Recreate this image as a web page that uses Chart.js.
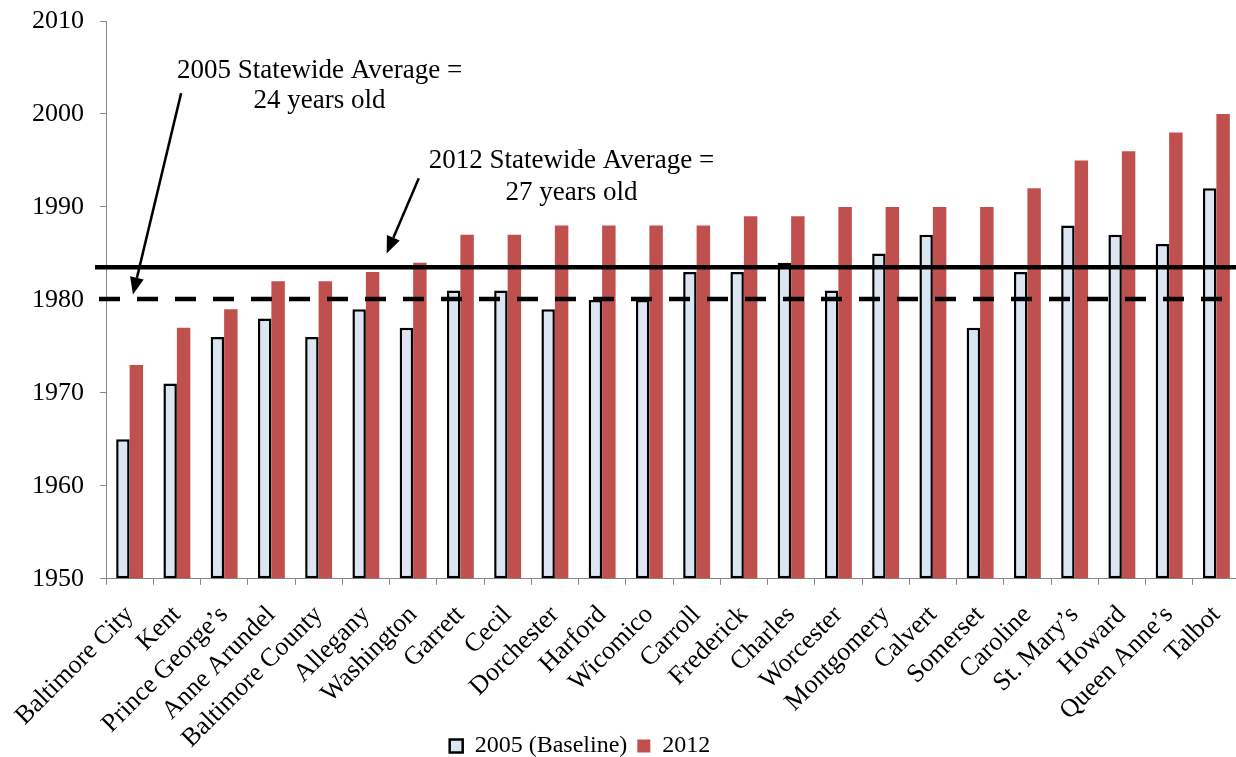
<!DOCTYPE html>
<html>
<head>
<meta charset="utf-8">
<script src="https://cdn.jsdelivr.net/npm/chart.js@4.4.1/dist/chart.umd.min.js"></script>
<style>
  html, body { margin: 0; padding: 0; background: #fff; overflow: hidden; }
  #wrap { position: relative; width: 1241px; height: 768px; }
</style>
</head>
<body>
<div id="wrap"><canvas id="chart"></canvas></div>
<script>
// Median year built of the housing stock, by jurisdiction
const counties = [
  'Baltimore City', 'Kent', 'Prince George\u2019s', 'Anne Arundel', 'Baltimore County',
  'Allegany', 'Washington', 'Garrett', 'Cecil', 'Dorchester', 'Harford', 'Wicomico',
  'Carroll', 'Frederick', 'Charles', 'Worcester', 'Montgomery', 'Calvert', 'Somerset',
  'Caroline', 'St. Mary\u2019s', 'Howard', 'Queen Anne\u2019s', 'Talbot'
];
const year2005 = [1965, 1971, 1976, 1978, 1976, 1979, 1977, 1981, 1981, 1979, 1980, 1980,
                  1983, 1983, 1984, 1981, 1985, 1987, 1977, 1983, 1988, 1987, 1986, 1992];
const year2012 = [1973, 1977, 1979, 1982, 1982, 1983, 1984, 1987, 1987, 1988, 1988, 1988,
                  1988, 1989, 1989, 1990, 1990, 1990, 1990, 1992, 1995, 1996, 1998, 2000];
const yTicks = [1950, 1960, 1970, 1980, 1990, 2000, 2010];

// Statewide averages (year)
const avg2005 = 1980.1;
const avg2012 = 1983.5;

// Callout texts
const note2005 = ['2005 Statewide Average =', '24 years old'];
const note2012 = ['2012 Statewide Average =', '27 years old'];

const FONT = '"Liberation Serif", "Times New Roman", serif';
const AXIS_GRAY = '#868686';

// Draws the average lines, callout text and arrows on top of the bars
const averagesPlugin = {
  id: 'averages',
  afterLayout(chart) {
    // legend sits a little left of the canvas centre
    if (chart.legend) chart.legend.left -= 80;
    // long rotated category names may run down beside the legend
    chart.scales.x.bottom = chart.height;
  },
  afterDatasetsDraw(chart) {
    const { ctx, chartArea, scales: { x, y } } = chart;
    const step = x.getPixelForValue(1) - x.getPixelForValue(0);
    const px = (i) => x.getPixelForValue(0) + i * step;
    const right = chart.width;

    ctx.save();
    ctx.strokeStyle = '#000';
    ctx.lineWidth = 4.5;
    ctx.lineCap = 'butt';

    // 2012 average: solid
    let yy = y.getPixelForValue(avg2012);
    ctx.setLineDash([]);
    ctx.beginPath();
    ctx.moveTo(chartArea.left - 11, yy);
    ctx.lineTo(right, yy);
    ctx.stroke();

    // 2005 average: dashed
    yy = y.getPixelForValue(avg2005);
    ctx.setLineDash([21, 17]);
    ctx.beginPath();
    ctx.moveTo(chartArea.left - 7, yy);
    ctx.lineTo(right, yy);
    ctx.stroke();
    ctx.setLineDash([]);

    // callout text
    ctx.fillStyle = '#000';
    ctx.font = '27px ' + FONT;
    ctx.textAlign = 'center';
    ctx.textBaseline = 'alphabetic';
    const notes = [
      { lines: note2005, i: 4.02, v: [2003.86, 2000.63] },
      { lines: note2012, i: 9.35, v: [1994.16, 1990.72] }
    ];
    notes.forEach(n => {
      n.lines.forEach((t, k) => ctx.fillText(t, px(n.i), y.getPixelForValue(n.v[k])));
    });

    // arrows
    const arrows = [
      { from: [1.09, 2002.24], to: [0.07, 1980.59] },
      { from: [6.12, 1993.09], to: [5.44, 1985.0] }
    ];
    ctx.lineWidth = 2.5;
    arrows.forEach(a => {
      const x1 = px(a.from[0]), y1 = y.getPixelForValue(a.from[1]);
      const x2 = px(a.to[0]), y2 = y.getPixelForValue(a.to[1]);
      const ang = Math.atan2(y2 - y1, x2 - x1);
      const head = 17, half = 7;
      const bx = x2 - head * Math.cos(ang), by = y2 - head * Math.sin(ang);
      ctx.beginPath();
      ctx.moveTo(x1, y1);
      ctx.lineTo(bx, by);
      ctx.stroke();
      ctx.beginPath();
      ctx.moveTo(x2, y2);
      ctx.lineTo(bx + half * Math.sin(ang), by - half * Math.cos(ang));
      ctx.lineTo(bx - half * Math.sin(ang), by + half * Math.cos(ang));
      ctx.closePath();
      ctx.fill();
    });
    ctx.restore();
  }
};

new Chart(document.getElementById('chart'), {
  type: 'bar',
  data: {
    labels: counties,
    datasets: [
      {
        label: '2005 (Baseline)',
        data: year2005,
        base: 1950,
        backgroundColor: '#DCE6F2',
        borderColor: '#000',
        borderWidth: 2.5,
        borderSkipped: false
      },
      {
        label: '2012',
        data: year2012,
        base: 1950,
        backgroundColor: '#C0504D',
        borderWidth: 0
      }
    ]
  },
  options: {
    responsive: true,
    maintainAspectRatio: false,
    animation: false,
    layout: { padding: { top: 21, right: 1, left: 0, bottom: 0 } },
    datasets: { bar: { categoryPercentage: 0.57, barPercentage: 1.0 } },
    scales: {
      x: {
        grid: { display: true, drawOnChartArea: false, drawTicks: true, tickLength: 6, color: AXIS_GRAY, offset: true },
        border: { display: true, color: AXIS_GRAY, width: 1 },
        ticks: {
          color: '#000',
          font: { family: FONT, size: 26 },
          minRotation: 45, maxRotation: 45, autoSkip: false, padding: 15
        },
        afterFit(scale) {
          scale.height = 145.2;
          scale.paddingLeft = 0;
          scale.paddingRight = 0;
        }
      },
      y: {
        min: 1950, max: 2010,
        afterBuildTicks(scale) { scale.ticks = yTicks.map(v => ({ value: v })); },
        grid: { display: true, drawOnChartArea: false, drawTicks: true, tickLength: 6, color: AXIS_GRAY },
        border: { display: true, color: AXIS_GRAY, width: 1 },
        ticks: {
          color: '#000', font: { family: FONT, size: 26 }, padding: 16,
          callback: (v) => String(v)
        },
        afterFit(scale) {
          scale.width = 106;
          scale.paddingTop = 0;
          scale.paddingBottom = 0;
        }
      }
    },
    plugins: {
      legend: {
        position: 'bottom',
        labels: {
          color: '#000',
          font: { family: FONT, size: 24 },
          boxWidth: 13, boxHeight: 13, padding: 10
        }
      },
      tooltip: { enabled: false }
    }
  },
  plugins: [averagesPlugin]
});
</script>
</body>
</html>
